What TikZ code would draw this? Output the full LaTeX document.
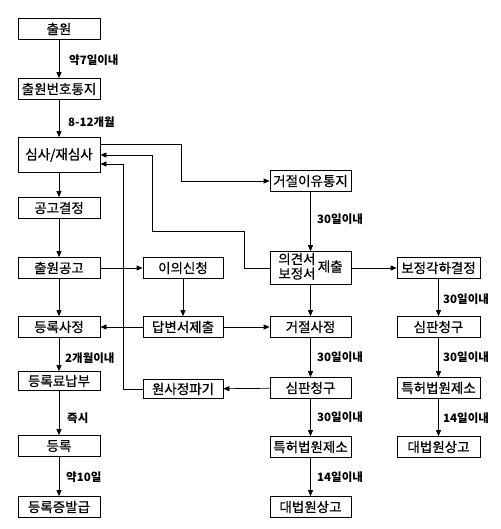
\documentclass[tikz,border=0pt]{standalone}
\usepackage{fontspec}
\newfontfamily\kr{Noto Sans CJK KR}
\newfontfamily\krm[FakeBold=0.6]{Noto Sans CJK KR}
\usetikzlibrary{arrows.meta,calc}
\begin{document}
\begin{tikzpicture}[x=1pt,y=-1pt,
  box/.style={draw, line width=0.7pt, minimum width=82pt, minimum height=21pt, inner sep=0pt,
    font=\krm\fontsize{13.5}{15}\selectfont},
  lbl/.style={anchor=west, inner sep=0pt, font=\kr\bfseries\fontsize{11.5}{13}\selectfont},
  arr/.style={line width=0.7pt, -{Triangle[length=6pt,width=5pt]}}]
\useasboundingbox (0,0) rectangle (500,529);
% left column
\node[box] (n1) at (59,29) {출원};
\node[box] (n2) at (59,89) {출원번호통지};
\node[box, minimum height=35pt] (n3) at (59,155) {심사/재심사};
\node[box] (n4) at (59,208) {공고결정};
\node[box] (n5) at (59,268) {출원공고};
\node[box] (n6) at (59,327) {등록사정};
\node[box, minimum height=19pt] (n7) at (59,381) {등록료납부};
\node[box] (n8) at (59,446) {등록};
\node[box] (n9) at (59,507) {등록증발급};
% middle column
\node[box, minimum width=80pt] (m1) at (183,268) {이의신청};
\node[box, minimum width=80pt] (m2) at (183,327) {답변서제출};
\node[box, minimum width=80pt, minimum height=19pt] (m3) at (183,389) {원사정파기};
% right column
\node[box, minimum width=81pt] (r1) at (310.5,181) {거절이유통지};
\node[box, minimum width=81pt, minimum height=33pt] (r2) at (310.5,268)
  {\begin{tabular}{@{}c@{}}의견서\\[-1pt]보정서\end{tabular}\,제출};
\node[box, minimum width=81pt] (r3) at (310.5,327) {거절사정};
\node[box, minimum width=81pt] (r4) at (310.5,388) {심판청구};
\node[box, minimum width=81pt] (r5) at (310.5,447) {특허법원제소};
\node[box, minimum width=81pt] (r6) at (310.5,507) {대법원상고};
% far right column
\node[box, minimum width=83pt] (s1) at (438.5,268) {보정각하결정};
\node[box, minimum width=83pt] (s2) at (438.5,327) {심판청구};
\node[box, minimum width=83pt] (s3) at (438.5,388) {특허법원제소};
\node[box, minimum width=83pt] (s4) at (438.5,447) {대법원상고};
% vertical arrows
\draw[arr] (n1) -- (n2);
\draw[arr] (n2) -- (n3);
\draw[arr] (n3) -- (n4);
\draw[arr] (n4) -- (n5);
\draw[arr] (n5) -- (n6);
\draw[arr] (n6) -- (n7);
\draw[arr] (n7) -- (n8);
\draw[arr] (n8) -- (n9);
\draw[arr] (m1) -- (m2);
\draw[arr] (r1) -- (r2);
\draw[arr] (r2) -- (r3);
\draw[arr] (r3) -- (r4);
\draw[arr] (r4) -- (r5);
\draw[arr] (r5) -- (r6);
\draw[arr] (s1) -- (s2);
\draw[arr] (s2) -- (s3);
\draw[arr] (s3) -- (s4);
% horizontal arrows
\draw[arr] (n5) -- (m1);
\draw[arr] (m2) -- (n6);
\draw[arr] (m2) -- (r3);
\draw[arr] (r2) -- (s1);
\draw[arr] (r4) -- (m3);
% feedback / elbow connectors
\draw[arr] ($(n3.east)+(0,-11)$) -- (181,144) -- (181,181) -- (r1.west);
\draw[arr] (r2.west) -- (244,268) -- (244,231) -- (152,231) -- (152,155) -- (n3.east);
\draw[arr] (m3.west) -- (123,389) -- (123,164) -- ($(n3.east)+(0,9)$);
% labels
\node[lbl] (l1) at (69,60) {약7일이내};
\node[lbl] (l2) at (68,122) {8-12개월};
\node[lbl] (l3) at (65,358) {2개월이내};
\node[lbl] (l4) at (67,418) {즉시};
\node[lbl] (l5) at (66,477) {약10일};
\node[lbl] (l6) at (317,219) {30일이내};
\node[lbl] (l7) at (443,299) {30일이내};
\node[lbl] (l8) at (317,357) {30일이내};
\node[lbl] (l9) at (443,357) {30일이내};
\node[lbl] (l10) at (317,417) {30일이내};
\node[lbl] (l11) at (443,418) {14일이내};
\node[lbl] (l12) at (317,477) {14일이내};
\end{tikzpicture}
\end{document}
